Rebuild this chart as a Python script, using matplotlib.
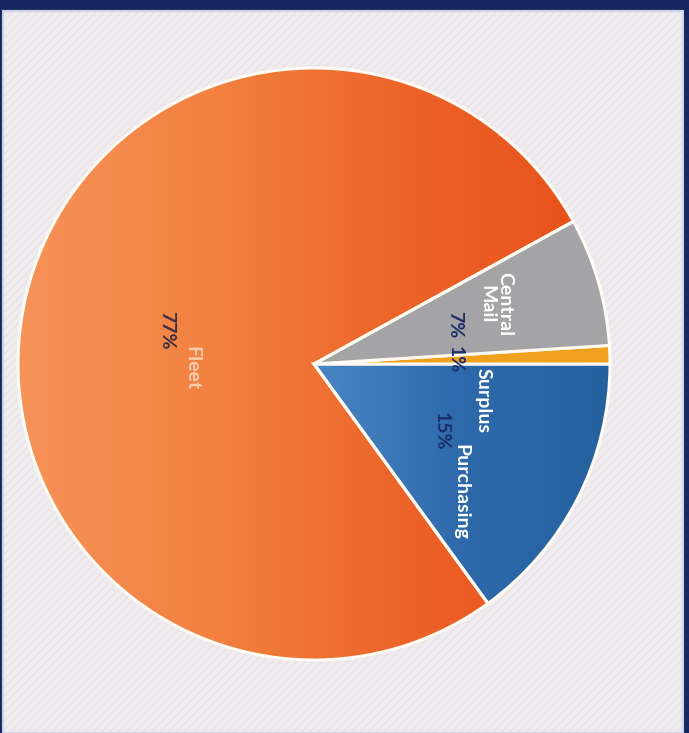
import numpy as np
import matplotlib
matplotlib.use("Agg")
import matplotlib.pyplot as plt
from matplotlib.patches import Rectangle
from matplotlib.colors import LinearSegmentedColormap

# Data
categories = ["Purchasing", "Surplus", "Central\nMail", "Fleet"]
shares = [15, 1, 7, 77]
pct_labels = ["15%", "1%", "7%", "77%"]

W, H = 689, 733
fig = plt.figure(figsize=(W / 100, H / 100), dpi=100)
fig.patch.set_facecolor("#15275e")
ax = fig.add_axes([0, 0, 1, 1])
ax.set_axis_off()

# light textured panel inside the navy frame
ax.add_patch(Rectangle((3, 0), 680, H - 11, facecolor="#efebee", edgecolor="#e6e2e7",
                       hatch="////", linewidth=0, zorder=0))
ax.add_patch(Rectangle((3, 0), 680, H - 11, facecolor="none", edgecolor="#ccd5ea",
                       linewidth=1.5, zorder=0.5))

cx, cy, r = 314, H - 364, 296
colors = ["#2f6dae", "#f0a11e", "#a4a3a5", "#ee7034"]
wedges, _ = ax.pie(shares, colors=colors, startangle=-54, counterclock=True,
                   radius=r, center=(cx, cy), frame=True,
                   wedgeprops=dict(edgecolor="#fffaf2", linewidth=2.2))
for w in wedges:
    w.set_zorder(2)

# gradient fills for Fleet and Purchasing, clipped to their wedges
xs = np.linspace(0, 1, 256)[None, :]
fleet_cmap = LinearSegmentedColormap.from_list(
    "fleet", ["#f6935a", "#f2813f", "#ec6228", "#e84f1a"])
im = ax.imshow(xs, cmap=fleet_cmap, extent=(cx - r, cx + r, cy - r, cy + r),
               aspect="auto", zorder=1, interpolation="bilinear")
im.set_clip_path(wedges[3])

blue_cmap = LinearSegmentedColormap.from_list("purch", ["#4a86c4", "#2e6aab", "#25609f"])
im2 = ax.imshow(xs, cmap=blue_cmap, extent=(cx, cx + r, cy - r, cy),
                aspect="auto", zorder=1, interpolation="bilinear")
im2.set_clip_path(wedges[0])

wedges[3].set_facecolor("none")
wedges[0].set_facecolor("none")

ax.set_xlim(0, W)
ax.set_ylim(0, H)

font = "Lato"
name_pos = [(461, 492), (483, 400), (496, 304), (192, 368)]
name_col = ["white", "white", "white", "#f9cdb0"]
pct_pos = [(441, 431), (455, 360), (455, 325), (167, 330)]
pct_col = ["#1b2c6b", "#1b2c6b", "#1b2c6b", "#3b2d3f"]

for name, (x, y), c in zip(categories, name_pos, name_col):
    ax.text(x, H - y, name, rotation=-90, ha="center", va="center", color=c,
            fontsize=14, fontweight="bold", family=font, linespacing=1.05, zorder=3)
for lab, (x, y), c in zip(pct_labels, pct_pos, pct_col):
    ax.text(x, H - y, lab, rotation=-90, ha="center", va="center", color=c,
            fontsize=14, fontweight="bold", family=font, zorder=3)

fig.savefig("out.png", dpi=100, facecolor=fig.get_facecolor())
